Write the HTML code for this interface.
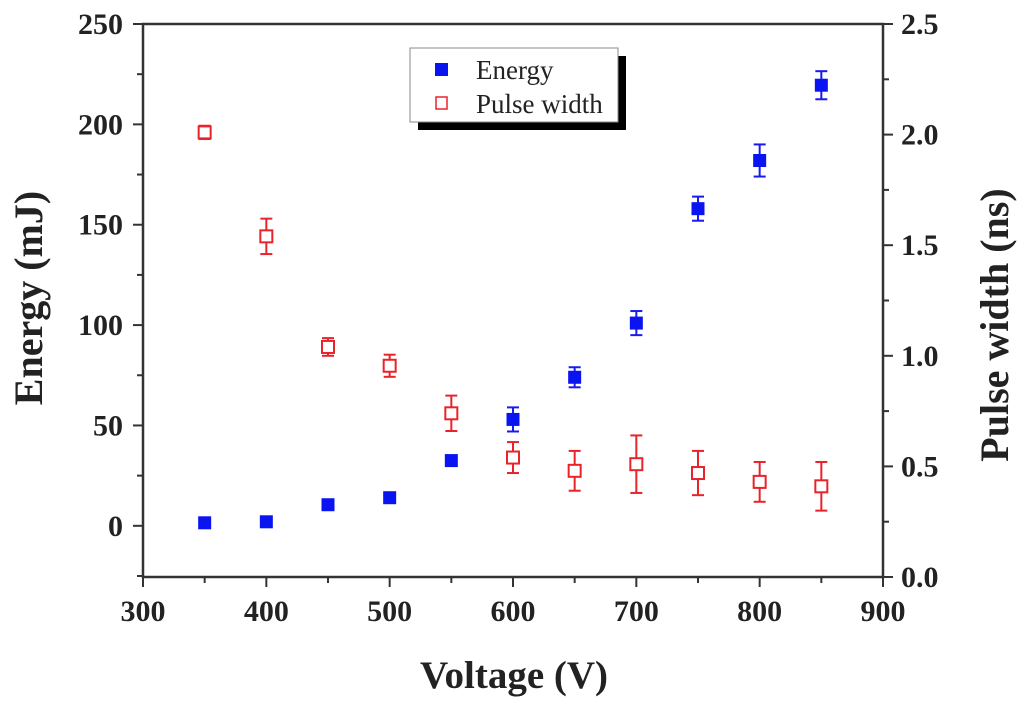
<!DOCTYPE html>
<html><head><meta charset="utf-8"><style>
body{margin:0;background:#fff}
svg{display:block;font-family:"Liberation Serif",serif}
</style></head><body>
<svg id="chart" width="1024" height="702"></svg>
<script>
const voltages=[350,400,450,500,550,600,650,700,750,800,850];
const energy=[1.5,2,10.5,14,32.5,53,74,101,158,182,219.5];
const energyErr=[1.5,1.5,2,2,2,6,5,6,6,8,7];
const pulse=[2.01,1.54,1.04,0.955,0.74,0.54,0.48,0.51,0.47,0.43,0.41];
const pulseErr=[0.03,0.08,0.04,0.05,0.08,0.07,0.09,0.13,0.1,0.09,0.11];
const xTicks=[300,400,500,600,700,800,900];
const yLeftTicks=[0,50,100,150,200,250];
const yRightTicks=[0.0,0.5,1.0,1.5,2.0,2.5];

const NS="http://www.w3.org/2000/svg";
const svg=document.getElementById('chart');
const L=143,R=883,T=24,B=577;
const X=v=>L+(v-300)/600*(R-L);
const YL=v=>B-(v+25.5)/275.5*(B-T);
const YR=v=>B-v/2.5*(B-T);
function el(tag,attrs,parent){const e=document.createElementNS(NS,tag);for(const k in attrs)e.setAttribute(k,attrs[k]);(parent||svg).appendChild(e);return e;}

const frame=el('rect',{x:L,y:T,width:R-L,height:B-T,fill:'none',stroke:'#333',"stroke-width":2.5});



xTicks.forEach((t,i)=>{
  const x=X(t);
  const tk=el('line',{x1:x,x2:x,y1:B,y2:B+10,stroke:'#333',"stroke-width":2});
  
  
  if(i<xTicks.length-1){const m=el('line',{x1:X(t+50),x2:X(t+50),y1:B,y2:B+6,stroke:'#333',"stroke-width":2});
  
  }
  const lb=el('text',{x:x,y:B+44,"text-anchor":"middle","font-size":30,"font-weight":"bold",fill:'#222'});
  lb.textContent=t;
  
  
});
yLeftTicks.forEach(t=>{
  const y=YL(t);
  const tk=el('line',{x1:L-10,x2:L,y1:y,y2:y,stroke:'#333',"stroke-width":2});
  
  
  if(t<250){const m=el('line',{x1:L-6,x2:L,y1:YL(t+25),y2:YL(t+25),stroke:'#333',"stroke-width":2});
  
  }
  const lb=el('text',{x:L-20,y:y+10,"text-anchor":"end","font-size":30,"font-weight":"bold",fill:'#222'});
  lb.textContent=t;
  
  
});
const mm=el('line',{x1:L-6,x2:L,y1:YL(-25),y2:YL(-25),stroke:'#333',"stroke-width":2});


yRightTicks.forEach(t=>{
  const y=YR(t);
  const tk=el('line',{x1:R,x2:R+10,y1:y,y2:y,stroke:'#333',"stroke-width":2});
  
  
  if(t<2.5){const m=el('line',{x1:R,x2:R+6,y1:YR(t+0.25),y2:YR(t+0.25),stroke:'#333',"stroke-width":2});
  
  }
  const lb=el('text',{x:R+18,y:y+10,"font-size":30,"font-weight":"bold",fill:'#222'});
  lb.textContent=t.toFixed(1);
  
  
});

function errbar(x,y1,y2,color,name){
  const g=el('g',{stroke:color,"stroke-width":2});
  
  
  el('line',{x1:x,x2:x,y1:y1,y2:y2},g);
  el('line',{x1:x-6,x2:x+6,y1:y1,y2:y1},g);
  el('line',{x1:x-6,x2:x+6,y1:y2,y2:y2},g);
}
voltages.forEach((v,i)=>{
  const x=X(v);
  errbar(x,YR(pulse[i]+pulseErr[i]),YR(pulse[i]-pulseErr[i]),'#e8232a','pulse-error-bar');
  const p=el('rect',{x:x-6,y:YR(pulse[i])-6,width:12,height:12,fill:'#fff',stroke:'#e8232a',"stroke-width":2});
  
  
  errbar(x,YL(energy[i]+energyErr[i]),YL(energy[i]-energyErr[i]),'#1a1aee','energy-error-bar');
  const e=el('rect',{x:x-6.5,y:YL(energy[i])-6.5,width:13,height:13,fill:'#0a14f0'});
  
  
});

const lg=el('g',{});


el('rect',{x:418,y:56,width:208,height:74,fill:'#000'},lg);
el('rect',{x:410,y:48,width:208,height:74,fill:'#fff',stroke:'#888',"stroke-width":1},lg);
el('rect',{x:435,y:63,width:13,height:13,fill:'#0a14f0'},lg);
el('rect',{x:436,y:97,width:11,height:12,fill:'#fff',stroke:'#e8232a',"stroke-width":1.5},lg);
const t1=el('text',{x:476,y:79,"font-size":27,fill:'#222'},lg);t1.textContent='Energy';


const t2=el('text',{x:476,y:113,"font-size":27,fill:'#222'},lg);t2.textContent='Pulse width';



const xt=el('text',{x:514,y:688,"text-anchor":"middle","font-size":39,"font-weight":"bold",fill:'#222'});
xt.textContent='Voltage (V)';


const yt=el('text',{x:0,y:0,"text-anchor":"middle","font-size":40,"font-weight":"bold",fill:'#222',transform:'translate(42,298) rotate(-90)'});
yt.textContent='Energy (mJ)';


const yt2=el('text',{x:0,y:0,"text-anchor":"middle","font-size":40,"font-weight":"bold",fill:'#222',transform:'translate(1008,325) rotate(-90)'});
yt2.textContent='Pulse width (ns)';


</script>
</body></html>
